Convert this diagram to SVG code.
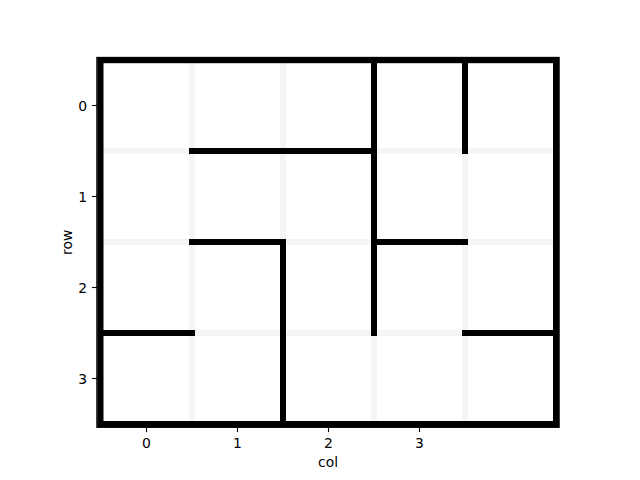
<svg xmlns="http://www.w3.org/2000/svg" width="640" height="480" viewBox="0 0 640 480">
<style>
text{font-family:"DejaVu Sans",sans-serif;font-size:13.9px;fill:#000}
.grid line{stroke:#f5f5f5;stroke-width:6}
.wall{stroke:#000;stroke-width:6;stroke-linecap:square;fill:none}
.tick{stroke:#000;stroke-width:1.1}
</style>
<rect width="640" height="480" fill="#fff"/>
<g id="grid" class="grid">
<line x1="192" y1="60" x2="192" y2="424"/>
<line x1="283" y1="60" x2="283" y2="424"/>
<line x1="374" y1="60" x2="374" y2="424"/>
<line x1="465" y1="60" x2="465" y2="424"/>
<line x1="101" y1="151" x2="556" y2="151"/>
<line x1="101" y1="242" x2="556" y2="242"/>
<line x1="101" y1="333" x2="556" y2="333"/>
</g>
<g id="axes-frame">
<rect x="97" y="57.6" width="462" height="369.6" fill="none" stroke="#000" stroke-width="1.5"/>
</g>
<g id="walls">
<rect id="border" class="wall" x="100.5" y="60.2" width="455.5" height="363.8" stroke-linejoin="miter"/>
<line class="wall" x1="192" y1="151" x2="374" y2="151"/>
<line class="wall" x1="374" y1="60" x2="374" y2="333"/>
<line class="wall" x1="465" y1="60" x2="465" y2="151"/>
<line class="wall" x1="192" y1="242" x2="283" y2="242"/>
<line class="wall" x1="283" y1="242" x2="283" y2="424"/>
<line class="wall" x1="374" y1="242" x2="465" y2="242"/>
<line class="wall" x1="101" y1="333" x2="192" y2="333"/>
<line class="wall" x1="465" y1="333" x2="556" y2="333"/>
</g>
<g id="axes">
<line class="tick" x1="146.5" y1="427.2" x2="146.5" y2="432.1"/>
<line class="tick" x1="237.5" y1="427.2" x2="237.5" y2="432.1"/>
<line class="tick" x1="328.5" y1="427.2" x2="328.5" y2="432.1"/>
<line class="tick" x1="419.5" y1="427.2" x2="419.5" y2="432.1"/>
<line class="tick" x1="92.1" y1="105.5" x2="97" y2="105.5"/>
<line class="tick" x1="92.1" y1="196.5" x2="97" y2="196.5"/>
<line class="tick" x1="92.1" y1="287.5" x2="97" y2="287.5"/>
<line class="tick" x1="92.1" y1="378.5" x2="97" y2="378.5"/>
<g text-anchor="middle">
<text x="146.5" y="448">0</text>
<text x="237.5" y="448">1</text>
<text x="328.5" y="448">2</text>
<text x="419.5" y="448">3</text>
<text x="328" y="466.7">col</text>
</g>
<g text-anchor="end">
<text x="87.2" y="110.5">0</text>
<text x="87.2" y="201.5">1</text>
<text x="87.2" y="292.5">2</text>
<text x="87.2" y="383.5">3</text>
</g>
<text transform="translate(72.3,242.4) rotate(-90)" text-anchor="middle">row</text>
</g>
</svg>
